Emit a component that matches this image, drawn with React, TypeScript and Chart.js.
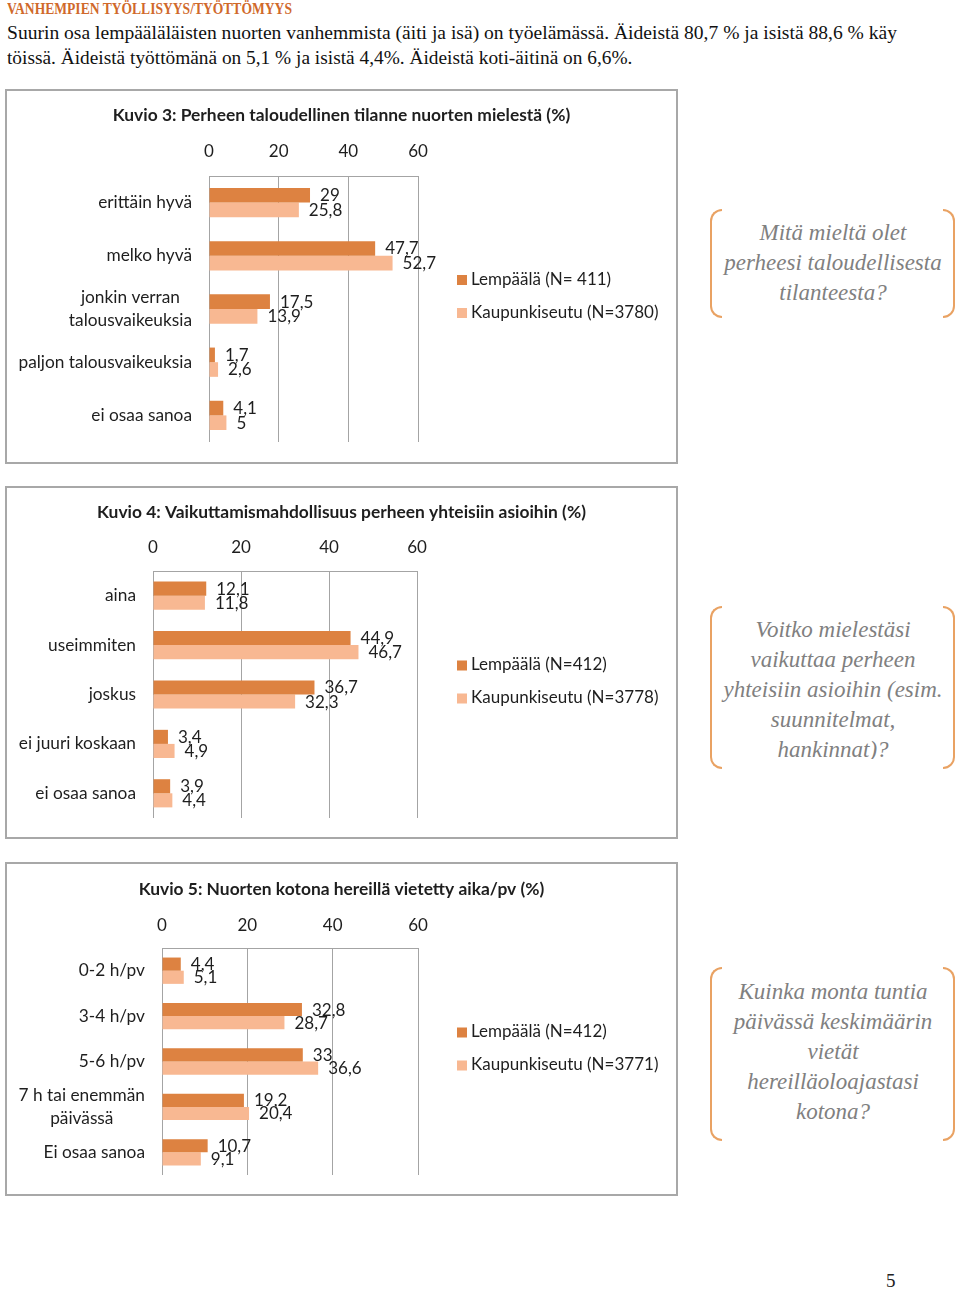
import React, { useEffect, useLayoutEffect, useRef, useState } from 'react';
import { Chart, registerables } from 'chart.js';

Chart.register(...registerables);

// ---------- Data ----------
const xTickValues = [0, 20, 40, 60];

const k3Title = 'Kuvio 3: Perheen taloudellinen tilanne nuorten mielestä (%)';
const k3Categories: (string | string[])[] = ['erittäin hyvä', 'melko hyvä', ['jonkin verran', 'talousvaikeuksia'], 'paljon talousvaikeuksia', 'ei osaa sanoa'];
const k3Lempaala = [29, 47.7, 17.5, 1.7, 4.1];
const k3Kaupunki = [25.8, 52.7, 13.9, 2.6, 5];
const k3Series = ['Lempäälä (N= 411)', 'Kaupunkiseutu (N=3780)'];

const k4Title = 'Kuvio 4: Vaikuttamismahdollisuus perheen yhteisiin asioihin (%)';
const k4Categories: (string | string[])[] = ['aina', 'useimmiten', 'joskus', 'ei juuri koskaan', 'ei osaa sanoa'];
const k4Lempaala = [12.1, 44.9, 36.7, 3.4, 3.9];
const k4Kaupunki = [11.8, 46.7, 32.3, 4.9, 4.4];
const k4Series = ['Lempäälä (N=412)', 'Kaupunkiseutu (N=3778)'];

const k5Title = 'Kuvio 5: Nuorten kotona hereillä vietetty aika/pv (%)';
const k5Categories: (string | string[])[] = ['0-2 h/pv', '3-4 h/pv', '5-6 h/pv', ['7 h tai enemmän', 'päivässä'], 'Ei osaa sanoa'];
const k5Lempaala = [4.4, 32.8, 33, 19.2, 10.7];
const k5Kaupunki = [5.1, 28.7, 36.6, 20.4, 9.1];
const k5Series = ['Lempäälä (N=412)', 'Kaupunkiseutu (N=3771)'];

const headerText = 'VANHEMPIEN TYÖLLISYYS/TYÖTTÖMYYS';
const bodyLine1 = 'Suurin osa lempääläläisten nuorten vanhemmista (äiti ja isä) on työelämässä. Äideistä 80,7 % ja isistä 88,6 % käy';
const bodyLine2 = 'töissä. Äideistä työttömänä on 5,1 % ja isistä 4,4%. Äideistä koti-äitinä on 6,6%.';

const q1Lines = ['Mitä mieltä olet', 'perheesi taloudellisesta', 'tilanteesta?'];
const q2Lines = ['Voitko mielestäsi', 'vaikuttaa perheen', 'yhteisiin asioihin (esim.', 'suunnitelmat,', 'hankinnat)?'];
const q3Lines = ['Kuinka monta tuntia', 'päivässä keskimäärin', 'vietät', 'hereilläoloajastasi', 'kotona?'];

// ---------- Styles ----------
const FONT = 'Lato, "Open Sans", sans-serif';
const DARK = '#dd8241';
const LIGHT = '#f8b892';
const GRID = '#a4a4a4';
const TEXT = '#1e1e1e';
const CAT_SIZE = 17.3;
const LABEL_SIZE = 17;
const TITLE_SIZE = 17.4;

const fmt = (v: number) => String(v).replace('.', ',');

type Geo = {
  width: number; height: number;
  areaLeft: number; areaRight: number; areaTop: number; areaBottom: number;
  titlePadTop: number; tickPad: number; pairPct: number;
  legendX: number; legendY0: number; legendGap: number;
};

const categoryLabelPlugin = {
  id: 'categoryLabels',
  afterDraw(chart: any) {
    const ctx = chart.ctx;
    const y = chart.scales.y;
    const right = chart.chartArea.left - 17;
    ctx.save();
    ctx.font = `${CAT_SIZE}px ${FONT}`;
    ctx.fillStyle = TEXT;
    ctx.textAlign = 'center';
    ctx.textBaseline = 'middle';
    (chart.data.labels as (string | string[])[]).forEach((lab, i) => {
      const lines = Array.isArray(lab) ? lab : [lab];
      const w = Math.max(...lines.map((l) => ctx.measureText(l).width));
      const cx = right - w / 2;
      const cy = y.getPixelForValue(i);
      const lh = 22.5;
      lines.forEach((l, j) => {
        ctx.fillText(l, cx, cy + (j - (lines.length - 1) / 2) * lh);
      });
    });
    ctx.restore();
  },
};

const valueLabelPlugin = {
  id: 'valueLabels',
  afterDatasetsDraw(chart: any) {
    const ctx = chart.ctx;
    const dys = [0.5, 0.5];
    ctx.save();
    ctx.font = `${LABEL_SIZE}px ${FONT}`;
    ctx.fillStyle = TEXT;
    ctx.textAlign = 'left';
    ctx.textBaseline = 'middle';
    chart.data.datasets.forEach((ds: any, di: number) => {
      const meta = chart.getDatasetMeta(di);
      meta.data.forEach((bar: any, i: number) => {
        ctx.fillText(fmt(ds.data[i]), bar.x + 10, bar.y + dys[di]);
      });
    });
    ctx.restore();
  },
};

const sideLegendPlugin = {
  id: 'sideLegend',
  afterDraw(chart: any, _args: any, opts: any) {
    const ctx = chart.ctx;
    ctx.save();
    ctx.font = `${LABEL_SIZE}px ${FONT}`;
    ctx.textAlign = 'left';
    ctx.textBaseline = 'middle';
    chart.data.datasets.forEach((ds: any, i: number) => {
      const y = opts.y0 + i * opts.gap;
      ctx.fillStyle = ds.backgroundColor;
      ctx.fillRect(opts.x, y - 4.5, 10, 10);
      ctx.fillStyle = TEXT;
      ctx.fillText(ds.label, opts.x + 14, y);
    });
    ctx.restore();
  },
};

function BarChart(props: {
  title: string; categories: (string | string[])[]; a: number[]; b: number[]; series: string[]; geo: Geo;
}) {
  const ref = useRef<HTMLCanvasElement>(null);
  const { geo } = props;
  useEffect(() => {
    const titleH = geo.titlePadTop + TITLE_SIZE * 1.2;
    const chart = new Chart(ref.current!, {
      type: 'bar',
      data: {
        labels: props.categories as any,
        datasets: [
          { label: props.series[0], data: props.a, backgroundColor: DARK, borderWidth: 0, categoryPercentage: geo.pairPct, barPercentage: 1 },
          { label: props.series[1], data: props.b, backgroundColor: LIGHT, borderWidth: 0, categoryPercentage: geo.pairPct, barPercentage: 1 },
        ],
      },
      plugins: [categoryLabelPlugin, valueLabelPlugin, sideLegendPlugin],
      options: {
        indexAxis: 'y',
        responsive: false,
        animation: false,
        devicePixelRatio: 1,
        layout: {
          padding: { left: 0, top: 0, right: 0, bottom: geo.height - geo.areaBottom },
        },
        scales: {
          x: {
            position: 'top',
            min: 0,
            max: 60,
            afterBuildTicks: (s: any) => { s.ticks = xTickValues.map((v) => ({ value: v })); },
            afterFit: (s: any) => { s.height = geo.areaTop - titleH; },
            grid: { color: GRID, lineWidth: 1, drawTicks: false },
            border: { display: true, color: GRID, width: 1 },
            ticks: { padding: geo.tickPad, color: TEXT, font: { family: FONT, size: 17, lineHeight: 1.2 } },
          },
          y: {
            type: 'category',
            grid: { display: false },
            border: { display: false },
            ticks: { display: false },
            afterFit: (s: any) => { s.width = geo.areaLeft; },
          },
          // empty right-hand band that holds the legend area
          yLegend: {
            type: 'category',
            position: 'right',
            grid: { display: false },
            border: { display: false },
            ticks: { display: false },
            afterFit: (s: any) => { s.width = geo.width - geo.areaRight; },
          },
        },
        plugins: {
          legend: { display: false },
          tooltip: { enabled: false },
          title: {
            display: true,
            text: props.title,
            color: TEXT,
            font: { family: FONT, size: TITLE_SIZE, weight: 'bold', lineHeight: 1.2 },
            padding: { top: geo.titlePadTop, bottom: 0 },
          },
          sideLegend: { x: geo.legendX, y0: geo.legendY0, gap: geo.legendGap },
        } as any,
      } as any,
    });
    return () => chart.destroy();
  }, []);
  return <canvas ref={ref} width={geo.width} height={geo.height} style={{ display: 'block', width: geo.width, height: geo.height }} />;
}

function FitLine(props: { text: string; left: number; top: number; width: number; style: React.CSSProperties }) {
  const ref = useRef<HTMLSpanElement>(null);
  const [scale, setScale] = useState(1);
  useLayoutEffect(() => {
    const measure = () => {
      const w = ref.current ? ref.current.offsetWidth : 0;
      if (w > 0) setScale(props.width / w);
    };
    measure();
    if ((document as any).fonts && (document as any).fonts.ready) (document as any).fonts.ready.then(measure);
  }, []);
  return (
    <span
      ref={ref}
      style={{
        position: 'absolute', left: props.left, top: props.top, whiteSpace: 'nowrap',
        transform: `scaleX(${scale})`, transformOrigin: 'left top', ...props.style,
      }}
    >
      {props.text}
    </span>
  );
}

function Question(props: { lines: string[]; top: number; height: number; textTop: number; clip?: number }) {
  const C = '#e9a263';
  return (
    <>
      <div style={{
        position: 'absolute', left: 710, top: props.top, width: 12, height: props.height, boxSizing: 'border-box',
        borderLeft: `2px solid ${C}`, borderTop: `2px solid ${C}`, borderBottom: `2px solid ${C}`, borderRadius: '12px 0 0 12px',
      }} />
      <div style={{
        position: 'absolute', left: 943, top: props.top, width: 12, height: props.height, boxSizing: 'border-box',
        borderRight: `2px solid ${C}`, borderTop: `2px solid ${C}`, borderBottom: `2px solid ${C}`, borderRadius: '0 12px 12px 0',
      }} />
      <div style={{
        position: 'absolute', left: 712, width: 242, top: props.textTop, textAlign: 'center',
        fontFamily: '"Liberation Serif", serif', fontStyle: 'italic', fontSize: 23, lineHeight: '30px', color: '#808080',
        height: props.clip, overflow: props.clip ? 'hidden' : 'visible',
      }}>
        {props.lines.map((l, i) => <div key={i} style={{ whiteSpace: 'nowrap' }}>{l}</div>)}
      </div>
    </>
  );
}

function Box(props: { top: number; height: number; children: React.ReactNode }) {
  return (
    <div style={{
      position: 'absolute', left: 5, top: props.top, width: 673, height: props.height, boxSizing: 'border-box',
      border: '2px solid #a8a8a8', background: '#fff',
    }}>
      {props.children}
    </div>
  );
}

const geo1: Geo = { width: 669, height: 371, areaLeft: 202, areaRight: 411, areaTop: 85, areaBottom: 351, titlePadTop: 14, tickPad: 14, pairPct: 0.55, legendX: 450, legendY0: 188.5, legendGap: 33 };
const geo2: Geo = { width: 669, height: 349, areaLeft: 146, areaRight: 410, areaTop: 83, areaBottom: 330, titlePadTop: 14, tickPad: 13, pairPct: 0.57, legendX: 450, legendY0: 177, legendGap: 33 };
const geo3: Geo = { width: 669, height: 330, areaLeft: 155, areaRight: 411, areaTop: 84, areaBottom: 311, titlePadTop: 15, tickPad: 12, pairPct: 0.58, legendX: 450, legendY0: 168, legendGap: 33 };

export default function App() {
  return (
    <div style={{ position: 'absolute', left: 0, top: 0, width: 960, height: 1290, background: '#fff', overflow: 'hidden' }}>
      <FitLine text={headerText} left={7} top={0} width={285}
        style={{ fontFamily: '"Liberation Serif", serif', fontWeight: 'bold', fontSize: 16, lineHeight: '18px', color: '#d0692b' }} />
      <FitLine text={bodyLine1} left={7} top={20} width={890}
        style={{ fontFamily: '"Liberation Serif", serif', fontSize: 19.5, lineHeight: '26px', color: '#111' }} />
      <FitLine text={bodyLine2} left={7} top={45} width={625}
        style={{ fontFamily: '"Liberation Serif", serif', fontSize: 19.5, lineHeight: '26px', color: '#111' }} />

      <Box top={89} height={375}>
        <BarChart title={k3Title} categories={k3Categories} a={k3Lempaala} b={k3Kaupunki} series={k3Series} geo={geo1} />
      </Box>
      <Question lines={q1Lines} top={209} height={109} textTop={218} />

      <Box top={486} height={353}>
        <BarChart title={k4Title} categories={k4Categories} a={k4Lempaala} b={k4Kaupunki} series={k4Series} geo={geo2} />
      </Box>
      <Question lines={q2Lines} top={606} height={163} textTop={615} clip={144} />

      <Box top={862} height={334}>
        <BarChart title={k5Title} categories={k5Categories} a={k5Lempaala} b={k5Kaupunki} series={k5Series} geo={geo3} />
      </Box>
      <Question lines={q3Lines} top={967} height={174} textTop={977} />

      <div style={{ position: 'absolute', left: 886, top: 1270, fontFamily: '"Liberation Serif", serif', fontSize: 19, lineHeight: '22px', color: '#222' }}>5</div>
    </div>
  );
}
